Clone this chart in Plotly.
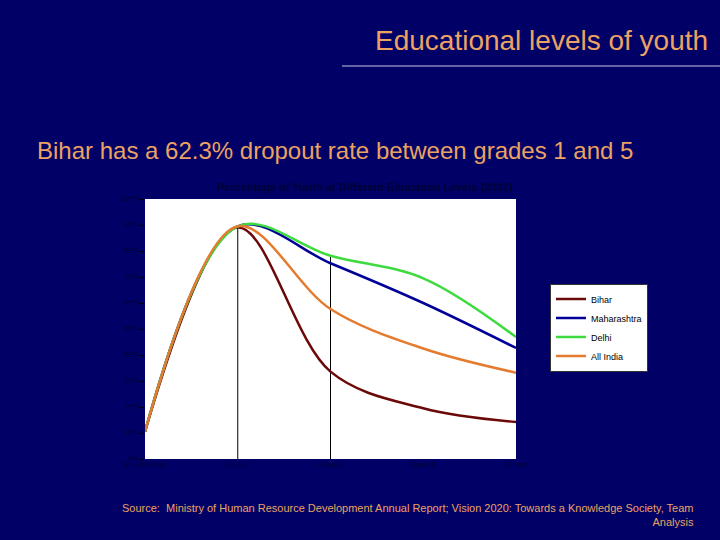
import plotly.graph_objects as go

categories = ["No Education", "Grade 1", "Grade 5", "Grade 8", "10 Pass"]
bihar = [10.5, 89.0, 33.6, 19.5, 14.2]
maharashtra = [10.5, 89.5, 75.3, 60.0, 42.7]
delhi = [10.5, 89.5, 78.2, 69.5, 46.9]
all_india = [10.5, 89.5, 57.7, 42.5, 33.2]
y_ticks = list(range(0, 101, 10))

series = [
    ("Bihar", bihar, "#6B0808"),
    ("Maharashtra", maharashtra, "#000099"),
    ("Delhi", delhi, "#3EDB3E"),
    ("All India", all_india, "#E47B2E"),
]

BG = "#000066"
ORANGE = "#EBA263"
FONT = "Liberation Sans, Arial"

fig = go.Figure()
for name, vals, col in series:
    fig.add_trace(go.Scatter(
        x=categories, y=vals, name=name, mode="lines",
        line=dict(color=col, width=2.5, shape="spline", smoothing=1.0),
    ))

# drop lines at Grade 1 and Grade 5 (to the highest series value)
for cat in ["Grade 1", "Grade 5"]:
    i = categories.index(cat)
    top = max(s[1][i] for s in series)
    fig.add_shape(type="line", xref="x", yref="y", x0=cat, x1=cat, y0=0, y1=top,
                  line=dict(color="black", width=1), layer="below")

# title underline
fig.add_shape(type="line", xref="paper", yref="paper", x0=0.531, x1=1.56, y0=1.5115, y1=1.5115,
              line=dict(color="#C8C8E0", width=1))

fig.add_annotation(text="Educational levels of youth", xref="paper", yref="paper",
                   x=1.523, y=1.6115, xanchor="right", yanchor="middle", showarrow=False,
                   font=dict(family=FONT, size=28, color=ORANGE))
fig.add_annotation(text="Bihar has a 62.3% dropout rate between grades 1 and 5", xref="paper", yref="paper",
                   x=-0.2965, y=1.188, xanchor="left", yanchor="middle", showarrow=False,
                   font=dict(family=FONT, size=24, color=ORANGE))
fig.add_annotation(text="<b>Percentage of Youth at Different Education Levels (2002)</b>", xref="paper", yref="paper",
                   x=0.593, y=1.046, xanchor="center", yanchor="middle", showarrow=False,
                   font=dict(family=FONT, size=11, color="#000038"))
fig.add_annotation(text="Source:  Ministry of Human Resource Development Annual Report; Vision 2020: Towards a Knowledge Society, Team<br>Analysis",
                   xref="paper", yref="paper", x=1.485, y=-0.217, xanchor="right", yanchor="middle",
                   align="right", showarrow=False,
                   font=dict(family=FONT, size=11, color=ORANGE))

fig.update_layout(
    width=720, height=540,
    paper_bgcolor=BG, plot_bgcolor="white",
    margin=dict(l=145, r=204, t=199, b=81),
    showlegend=True,
    legend=dict(x=1.0916, y=0.675, xanchor="left", yanchor="top",
                bgcolor="white", bordercolor="#333333", borderwidth=1,
                font=dict(family=FONT, size=9, color="black"),
                tracegroupgap=0, itemwidth=30),
    xaxis=dict(type="category", range=[0, 4], showgrid=False, zeroline=False,
               showline=False, ticks="",
               tickfont=dict(family=FONT, size=7, color="#000038")),
    yaxis=dict(range=[0, 100], tickvals=y_ticks, ticktext=[f"{v}%" for v in y_ticks],
               showgrid=False, zeroline=False, showline=False,
               ticks="outside", ticklen=4, tickcolor="black",
               tickfont=dict(family=FONT, size=7, color="#000038")),
)

fig.write_html("out.html", config={"displayModeBar": False},
               post_script="document.body.style.margin='0';document.body.style.background='#000066';")
